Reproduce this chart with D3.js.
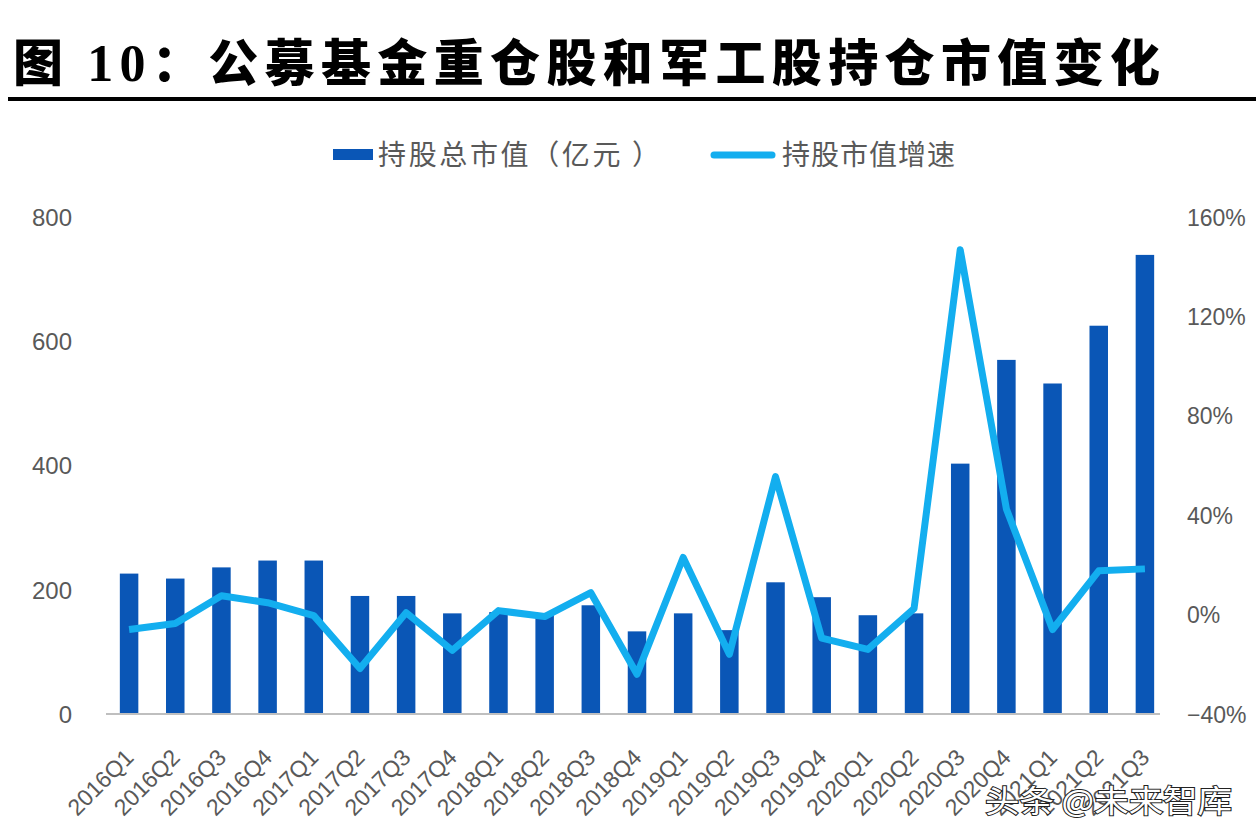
<!DOCTYPE html>
<html>
<head>
<meta charset="utf-8">
<script src="https://cdn.jsdelivr.net/npm/d3@7"></script>
<style>
  html, body { margin: 0; padding: 0; background: #ffffff; }
  svg { display: block; }
</style>
</head>
<body>
<svg id="chart" width="1256" height="838"></svg>
<script>
const categories = ["2016Q1","2016Q2","2016Q3","2016Q4","2017Q1","2017Q2","2017Q3","2017Q4",
  "2018Q1","2018Q2","2018Q3","2018Q4","2019Q1","2019Q2","2019Q3","2019Q4",
  "2020Q1","2020Q2","2020Q3","2020Q4","2021Q1","2021Q2","2021Q3"];
const marketValue = [226, 218, 236, 247, 247, 190, 190, 162, 164, 160, 175, 133,
  162, 135, 212, 188, 159, 162, 403, 570, 532, 625, 739];
const growthRate = [-6.0, -3.6, 7.6, 4.8, -0.4, -21.7, 0.8, -14.4, 1.6, -0.8, 8.8, -24.0,
  23.0, -16.0, 55.5, -9.5, -14.0, 2.4, 146.8, 42.5, -6.0, 17.6, 18.4];
const leftTicks = [0, 200, 400, 600, 800];
const rightTicks = [-40, 0, 40, 80, 120, 160];
const titleText = ["图 ", "10", "：公募基金重仓股和军工股持仓市值变化"];
const legendLabels = ["持股总市值（亿元 ）", "持股市值增速"];
const watermark = "头条 @未来智库";

const barColor = "#0A56B6";
const lineColor = "#13AEEF";
const textColor = "#595959";

const svg = d3.select("#chart");
svg.append("rect").attr("width", 1256).attr("height", 838).attr("fill", "#ffffff");

// Title
const title = svg.append("text")
  .attr("x", 13).attr("y", 81)
  .attr("font-family", "'Noto Sans CJK SC', sans-serif")
  .attr("font-weight", 900)
  .attr("font-size", 50)
  .attr("fill", "#000")
  .attr("textLength", 1147)
  .attr("lengthAdjust", "spacing");
title.append("tspan").text(titleText[0]);
title.append("tspan").attr("font-family", "'Liberation Serif', serif").attr("font-weight", 700).attr("font-size", 52).text(titleText[1]);
title.append("tspan").text(titleText[2]);

svg.append("rect").attr("x", 8).attr("y", 97).attr("width", 1248).attr("height", 4).attr("fill", "#000");

// Scales
const x = d3.scaleBand().domain(categories).range([106, 1168]).paddingInner(0).paddingOuter(0);
const yL = d3.scaleLinear().domain([0, 800]).range([714, 217]);
const yR = d3.scaleLinear().domain([-40, 160]).range([714, 217]);
const barW = 18.5;

// Left axis
const leftAxis = d3.axisLeft(yL).tickValues(leftTicks).tickSize(0).tickPadding(0);
const gL = svg.append("g").attr("transform", "translate(72,0)").call(leftAxis);
gL.select(".domain").remove();
gL.selectAll("text").attr("font-family", "'Liberation Sans', Arial, sans-serif")
  .attr("font-size", 24).attr("fill", textColor).attr("dy", "0.35em");

// Right axis
const rightAxis = d3.axisRight(yR).tickValues(rightTicks).tickSize(0).tickPadding(0)
  .tickFormat(d => (d < 0 ? "\u2212" + Math.abs(d) : d) + "%");
const gR = svg.append("g").attr("transform", "translate(1187,0)").call(rightAxis);
gR.select(".domain").remove();
gR.selectAll("text").attr("font-family", "'Liberation Sans', Arial, sans-serif")
  .attr("font-size", 23).attr("fill", textColor).attr("dy", "0.35em");

// Bars
svg.append("g").selectAll("rect").data(categories).join("rect")
  .attr("x", (d) => x(d) + x.bandwidth() / 2 - barW / 2)
  .attr("y", (d, i) => yL(marketValue[i]))
  .attr("width", barW)
  .attr("height", (d, i) => yL(0) - yL(marketValue[i]))
  .attr("fill", barColor);

// X axis
const xAxis = d3.axisBottom(x).tickSize(0).tickPadding(0);
const gX = svg.append("g").attr("transform", "translate(0,714)").call(xAxis);
gX.select(".domain").attr("stroke", "#BFBFBF").attr("stroke-width", 2)
  .attr("d", "M106,0H1160");
gX.selectAll(".tick text")
  .attr("font-family", "'Liberation Sans', Arial, sans-serif")
  .attr("font-size", 23).attr("fill", textColor)
  .attr("text-anchor", "end")
  .attr("dy", 0).attr("y", 0)
  .attr("transform", "translate(6,45) rotate(-45)");

// Line
const line = d3.line()
  .x((d, i) => x(categories[i]) + x.bandwidth() / 2)
  .y(d => yR(d));
svg.append("path").datum(growthRate)
  .attr("d", line)
  .attr("fill", "none")
  .attr("stroke", lineColor)
  .attr("stroke-width", 7)
  .attr("stroke-linejoin", "round")
  .attr("stroke-linecap", "butt");

// Legend
const lg = svg.append("g");
lg.append("rect").attr("x", 333).attr("y", 149).attr("width", 40).attr("height", 11).attr("fill", barColor);
lg.append("text").attr("x", 378).attr("y", 165).text(legendLabels[0])
  .attr("font-family", "'Noto Sans CJK SC', sans-serif").attr("font-size", 28)
  .attr("fill", textColor).attr("textLength", 282).attr("lengthAdjust", "spacing");
lg.append("line").attr("x1", 714).attr("x2", 772).attr("y1", 155).attr("y2", 155)
  .attr("stroke", lineColor).attr("stroke-width", 7).attr("stroke-linecap", "round");
lg.append("text").attr("x", 782).attr("y", 165).text(legendLabels[1])
  .attr("font-family", "'Noto Sans CJK SC', sans-serif").attr("font-size", 28)
  .attr("fill", textColor).attr("textLength", 173).attr("lengthAdjust", "spacing");

// Watermark
svg.append("text").attr("x", 985).attr("y", 812).text(watermark)
  .attr("font-family", "'Noto Sans CJK SC', sans-serif").attr("font-size", 31)
  .attr("fill", "#ffffff").attr("stroke", "#222").attr("stroke-width", 2)
  .attr("paint-order", "stroke").attr("textLength", 247).attr("lengthAdjust", "spacingAndGlyphs");
</script>
</body>
</html>
